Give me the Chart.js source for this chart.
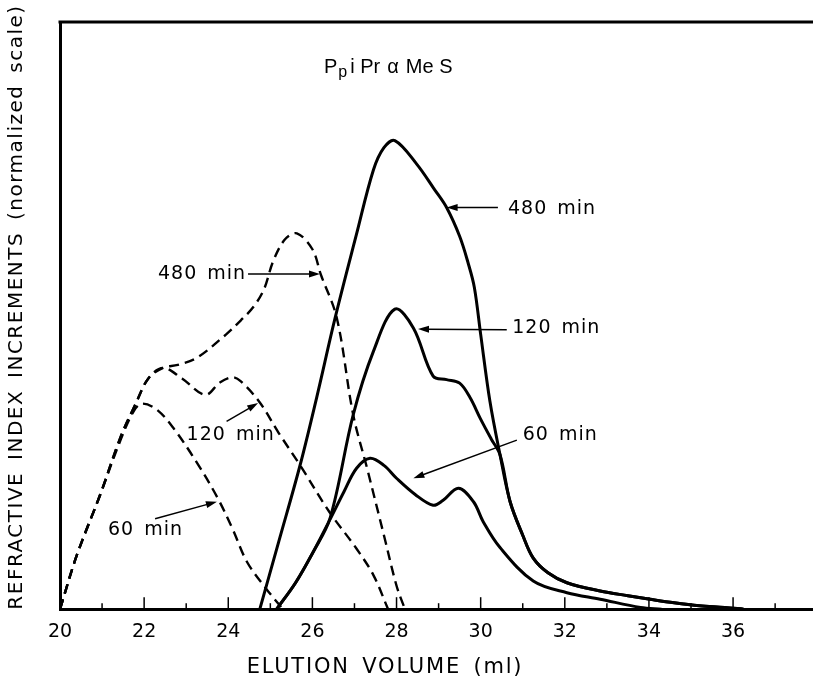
<!DOCTYPE html>
<html>
<head>
<meta charset="utf-8">
<script src="https://cdn.jsdelivr.net/npm/chart.js@4"></script>
<style>
  html, body { margin: 0; padding: 0; background: #fff; }
  #wrap { width: 813px; height: 681px; }
</style>
</head>
<body>
<div id="wrap"><canvas id="gpcChart" width="813" height="681"></canvas></div>
<script>
// elution volume (ml) and normalized refractive index increments
const tickLabels = [20, 22, 24, 26, 28, 30, 32, 34, 36]
const minorTicks = [21, 22, 23, 24, 25, 26, 27, 28, 29, 30, 31, 32, 33, 34, 35, 36, 37]

// dashed curves (first polymer)
const dash60Vol = [20, 20.4, 20.95, 21.45, 21.75, 21.95, 22.3, 22.7, 23.25, 23.75, 24.1, 24.45, 24.9, 25.3]
const dash60Ri = [0, 9.2, 19.4, 29, 33.7, 35, 34, 30.8, 25, 18.9, 13.7, 8, 3.5, 0]

const dash120Vol = [20, 20.4, 20.95, 21.45, 21.8, 22.1, 22.45, 22.9, 23.45, 23.8, 24.1, 24.3, 24.75, 25.2, 25.7, 26.4, 27.05, 27.45, 27.8]
const dash120Ri = [0, 9.2, 19.4, 29.5, 35, 39.3, 41.1, 39.3, 36.5, 38.6, 39.5, 38.8, 35.2, 30, 24.6, 16.6, 10.3, 5.8, 0]

const dash480Vol = [20, 20.4, 20.95, 21.45, 21.8, 22.1, 22.45, 22.8, 23.25, 23.95, 24.3, 24.6, 24.85, 25.07, 25.35, 25.63, 26.0, 26.2, 26.58, 26.97, 27.3, 27.7, 28.0, 28.2]
const dash480Ri = [0, 9.2, 19.4, 29.5, 35, 39.3, 41.1, 41.6, 42.8, 46.8, 49.2, 51.5, 54.5, 59.3, 63, 64, 61.3, 57, 49.6, 33.1, 24, 12.6, 4, 0]

// solid curves (second polymer)
const solid60Vol = [25.15, 25.6, 26.0, 26.42, 26.75, 27.05, 27.37, 27.7, 28.0, 28.45, 28.87, 29.1, 29.47, 29.83, 30.06, 30.46, 31.25, 32.05, 32.84, 33.8, 34.3]
const solid60Ri = [0, 4.5, 9.5, 15.3, 20, 24, 25.7, 24.5, 22.3, 19.5, 17.7, 18.5, 20.6, 18.3, 14.9, 10.5, 4.8, 2.8, 1.7, 0.3, 0]

const solid120Vol = [25.15, 25.6, 26.0, 26.42, 26.97, 27.45, 27.96, 28.4, 28.87, 29.19, 29.5, 29.75, 29.99, 30.25, 30.46, 30.7, 31.0, 31.25, 31.6, 32.05, 32.84, 33.5, 34.03, 34.6, 35.2, 35.8, 36.25]
const solid120Ri = [0, 4.5, 9.5, 15.5, 33.1, 43.9, 51.1, 47.9, 39.7, 39.1, 38.5, 36, 32.5, 29, 26.3, 18.3, 12.6, 8.7, 6.2, 4.5, 3.1, 2.3, 1.7, 1.1, 0.6, 0.3, 0]

const solid480Vol = [24.75, 25.2, 25.71, 26.1, 26.54, 27.05, 27.45, 27.7, 27.96, 28.48, 28.9, 29.19, 29.5, 29.7, 29.85, 30.0, 30.22, 30.46, 30.7, 31.0, 31.25, 31.6, 32.05, 32.84, 33.5, 34.03, 34.6, 35.2, 35.8, 36.25]
const solid480Ri = [0, 11.5, 24.6, 36, 49.6, 63.9, 74.8, 78.6, 79.8, 75.8, 71.5, 68.4, 63.5, 59, 54.8, 46.8, 35.4, 26.3, 18.3, 12.6, 8.7, 6.2, 4.5, 3.1, 2.3, 1.7, 1.1, 0.6, 0.3, 0]

// curve labels with arrows, in data units
const noteText = ['480 min', '120 min', '60 min', '480 min', '120 min', '60 min']
const noteAt = [[22.33, 57.1], [23.01, 29.7], [21.14, 13.5], [30.65, 68.2], [30.75, 47.9], [31.0, 29.7]]
const arrowFrom = [[24.47, 57.1], [23.96, 32.0], [22.26, 15.4], [30.41, 68.4], [30.62, 47.6], [30.86, 28.8]]
const arrowTo = [[26.18, 57.1], [24.71, 35.1], [23.73, 18.3], [29.19, 68.4], [28.51, 47.7], [28.4, 22.3]]

function pts(xs, ys) {
  return xs.map((x, i) => ({ x: x, y: ys[i] }))
}

function curve(label, xs, ys, dashed) {
  return {
    label: label,
    data: pts(xs, ys),
    borderColor: '#000',
    borderWidth: dashed ? 2.4 : 3,
    borderDash: dashed ? [10, 6] : [],
    pointRadius: 0,
    fill: false,
    tension: 0.35
  }
}

const font = '"DejaVu Sans", Verdana, sans-serif'

const decorations = {
  id: 'decorations',
  afterDraw(chart) {
    const ctx = chart.ctx
    const xs = chart.scales.x
    const ys = chart.scales.y
    const area = chart.chartArea
    ctx.save()
    ctx.strokeStyle = '#000'
    ctx.fillStyle = '#000'

    // top frame line
    ctx.lineWidth = 3
    ctx.beginPath()
    ctx.moveTo(area.left - 1.5, area.top)
    ctx.lineTo(area.right, area.top)
    ctx.stroke()

    // ticks pointing up into the plot
    ctx.lineWidth = 1.5
    minorTicks.forEach(v => {
      const px = xs.getPixelForValue(v)
      const len = v % 2 === 0 ? 12 : 6
      ctx.beginPath()
      ctx.moveTo(px, area.bottom)
      ctx.lineTo(px, area.bottom - len)
      ctx.stroke()
    })

    // curve labels and arrows
    ctx.font = '19px ' + font
    ctx.letterSpacing = '1px'
    ctx.wordSpacing = '3px'
    ctx.textBaseline = 'middle'
    ctx.textAlign = 'left'
    noteText.forEach((t, i) => {
      ctx.fillText(t, xs.getPixelForValue(noteAt[i][0]), ys.getPixelForValue(noteAt[i][1]))
      const x1 = xs.getPixelForValue(arrowFrom[i][0])
      const y1 = ys.getPixelForValue(arrowFrom[i][1])
      const x2 = xs.getPixelForValue(arrowTo[i][0])
      const y2 = ys.getPixelForValue(arrowTo[i][1])
      const a = Math.atan2(y2 - y1, x2 - x1)
      ctx.lineWidth = 1.5
      ctx.beginPath()
      ctx.moveTo(x1, y1)
      ctx.lineTo(x2 - 8 * Math.cos(a), y2 - 8 * Math.sin(a))
      ctx.stroke()
      ctx.beginPath()
      ctx.moveTo(x2, y2)
      ctx.lineTo(x2 - 11 * Math.cos(a) + 3.5 * Math.sin(a), y2 - 11 * Math.sin(a) - 3.5 * Math.cos(a))
      ctx.lineTo(x2 - 11 * Math.cos(a) - 3.5 * Math.sin(a), y2 - 11 * Math.sin(a) + 3.5 * Math.cos(a))
      ctx.closePath()
      ctx.fill()
    })

    // sample name, P with subscript p
    ctx.letterSpacing = '0px'
    ctx.wordSpacing = '0px'
    ctx.textBaseline = 'alphabetic'
    const tfont = '"Liberation Sans", Arial, sans-serif'
    let tx = 324
    const base = 73
    ctx.font = '20px ' + tfont
    ctx.fillText('P', tx, base)
    tx += ctx.measureText('P').width + 1
    ctx.font = '16px ' + tfont
    ctx.fillText('p', tx, base + 4)
    tx += ctx.measureText('p').width + 3
    ctx.font = '20px ' + tfont
    ctx.fillText('i Pr', tx, base)
    tx += ctx.measureText('i Pr').width + 7
    ctx.fillText('\u03b1', tx, base)
    tx += ctx.measureText('\u03b1').width + 7
    ctx.fillText('Me S', tx, base)

    // axis titles
    ctx.font = '21px ' + font
    ctx.letterSpacing = '1.8px'
    ctx.wordSpacing = '4px'
    ctx.textAlign = 'center'
    ctx.textBaseline = 'middle'
    ctx.fillText('ELUTION VOLUME (ml)', 385, 668)
    ctx.save()
    ctx.translate(17, 307)
    ctx.rotate(-Math.PI / 2)
    ctx.font = '20px ' + font
    ctx.letterSpacing = '1.5px'
    ctx.wordSpacing = '4px'
    ctx.fillText('REFRACTIVE INDEX INCREMENTS (normalized scale)', 0, 0)
    ctx.restore()
    ctx.restore()
  }
}

window.addEventListener('load', function () {
  const ctx = document.getElementById('gpcChart').getContext('2d')
  window.gpcChart = new Chart(ctx, {
    type: 'line',
    data: {
      datasets: [
        curve('60 min', dash60Vol, dash60Ri, true),
        curve('120 min', dash120Vol, dash120Ri, true),
        curve('480 min', dash480Vol, dash480Ri, true),
        curve('60 min', solid60Vol, solid60Ri, false),
        curve('120 min', solid120Vol, solid120Ri, false),
        curve('480 min', solid480Vol, solid480Ri, false)
      ]
    },
    options: {
      responsive: false,
      animation: false,
      devicePixelRatio: 1,
      layout: { padding: { left: 60, top: 22, right: 0, bottom: 27 } },
      plugins: {
        legend: { display: false },
        tooltip: { enabled: false }
      },
      scales: {
        x: {
          type: 'linear',
          min: 20,
          max: 37.9,
          afterBuildTicks: scale => {
            scale.ticks = tickLabels.map(v => ({ value: v }))
          },
          grid: { display: false, drawTicks: false },
          border: { display: true, color: '#000', width: 3 },
          ticks: {
            color: '#000',
            padding: 11,
            maxRotation: 0,
            font: { family: font, size: 19 }
          }
        },
        y: {
          min: 0,
          max: 100,
          grid: { display: false, drawTicks: false },
          border: { display: true, color: '#000', width: 3 },
          ticks: { display: false }
        }
      }
    },
    plugins: [decorations]
  })
})
</script>
</body>
</html>
